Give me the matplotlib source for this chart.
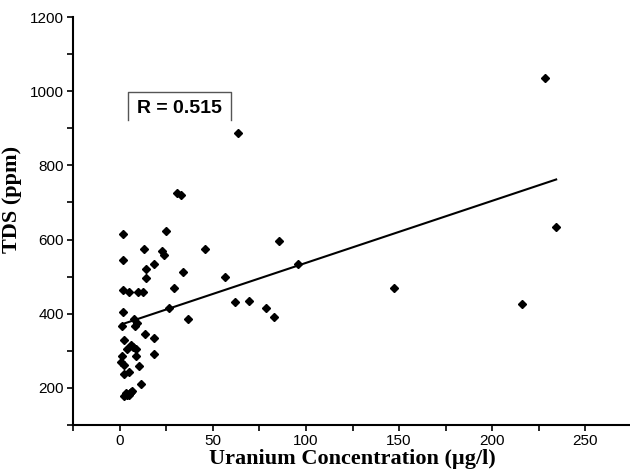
import matplotlib
matplotlib.use("Agg")
import matplotlib.pyplot as plt
from matplotlib.lines import Line2D
from matplotlib.ticker import MultipleLocator
import numpy as np

# Data
uranium = [2, 25, 13, 22.5, 23.8, 1.8, 18.4, 14.3, 14.3, 34, 29, 1.8, 5, 9.8, 12.7,
           26.5, 36.5, 1.6, 7.5, 9.5, 1.5, 8.5, 13.5, 18.6, 2.3, 6, 7.2, 4, 8.6,
           1.2, 9, 18.3, 0.7, 2.4, 10.2, 2.5, 5, 11.3,
           2.3, 4.1, 5.5, 6.8, 3.6, 5.0, 6.0,
           31, 32.7, 63.7, 45.9, 56.4, 61.8, 69.3, 78.7, 83, 85.6, 96,
           147.2, 216.2, 228.2, 234.3]
tds = [614, 624, 575, 568, 559, 544, 535, 521, 495, 512, 470, 465, 459, 459, 459,
       415, 386, 404, 385, 375, 366, 366, 346, 334, 330, 316, 310, 306, 305,
       287, 285, 291, 270, 261, 259, 238, 243, 211,
       177, 180, 186, 193, 186, 182, 190,
       726, 719, 886, 575, 499, 431, 435, 415, 391, 595, 535,
       469, 425, 1035, 634]

fit_intercept = 369.5
fit_slope = 1.675
r_text = "R = 0.515"

xlabel = "Uranium Concentration (\u00b5g/l)"
ylabel = "TDS (ppm)"
xticks = [0, 50, 100, 150, 200, 250]
yticks = [200, 400, 600, 800, 1000, 1200]

fig = plt.figure(figsize=(6.3, 4.72), dpi=100)
ax = fig.add_axes([73/630, 1 - 425/472, 559/630, 408/472])

ax.plot(uranium, tds, linestyle='none', marker='D', markersize=4.5,
        color='black', zorder=3)

xf = np.array([min(uranium), max(uranium)])
ax.plot(xf, fit_intercept + fit_slope * xf, color='black', linewidth=1.5, zorder=2)

ax.set_xlim(-25, 275)
ax.set_ylim(100, 1200)
ax.set_xticks(xticks)
ax.set_yticks(yticks)
ax.xaxis.set_minor_locator(MultipleLocator(25))
ax.yaxis.set_minor_locator(MultipleLocator(100))

for s in ['top', 'right']:
    ax.spines[s].set_visible(False)
for s in ['left', 'bottom']:
    ax.spines[s].set_linewidth(1.5)

ax.tick_params(which='both', direction='out', width=1.2, length=4.5, color='black')
ax.tick_params(which='major', labelsize=11, pad=2)
for lab in ax.get_xticklabels() + ax.get_yticklabels():
    lab.set_family(['Liberation Sans', 'DejaVu Sans'])

ax.set_xlabel(xlabel, fontsize=16, fontweight='bold',
              family=['Liberation Serif', 'DejaVu Serif'], labelpad=1)
ax.set_ylabel(ylabel, fontsize=16, fontweight='bold',
              family=['Liberation Serif', 'DejaVu Serif'])
ax.yaxis.set_label_coords(-0.091, 0.553)

# R annotation box (open at the bottom)
bx0, bx1, by0, by1 = 0.0979, 0.2822, 0.7475, 0.8152
ax.add_line(Line2D([bx0, bx0, bx1, bx1], [by0, by1, by1, by0],
                   transform=ax.transAxes, color='#555555', linewidth=1.0))
ax.text(0.1896, 0.7757, r_text, transform=ax.transAxes, ha='center', va='center',
        fontsize=14, fontweight='bold', family=['Liberation Sans', 'DejaVu Sans'])

fig.savefig("out.png", dpi=100)
